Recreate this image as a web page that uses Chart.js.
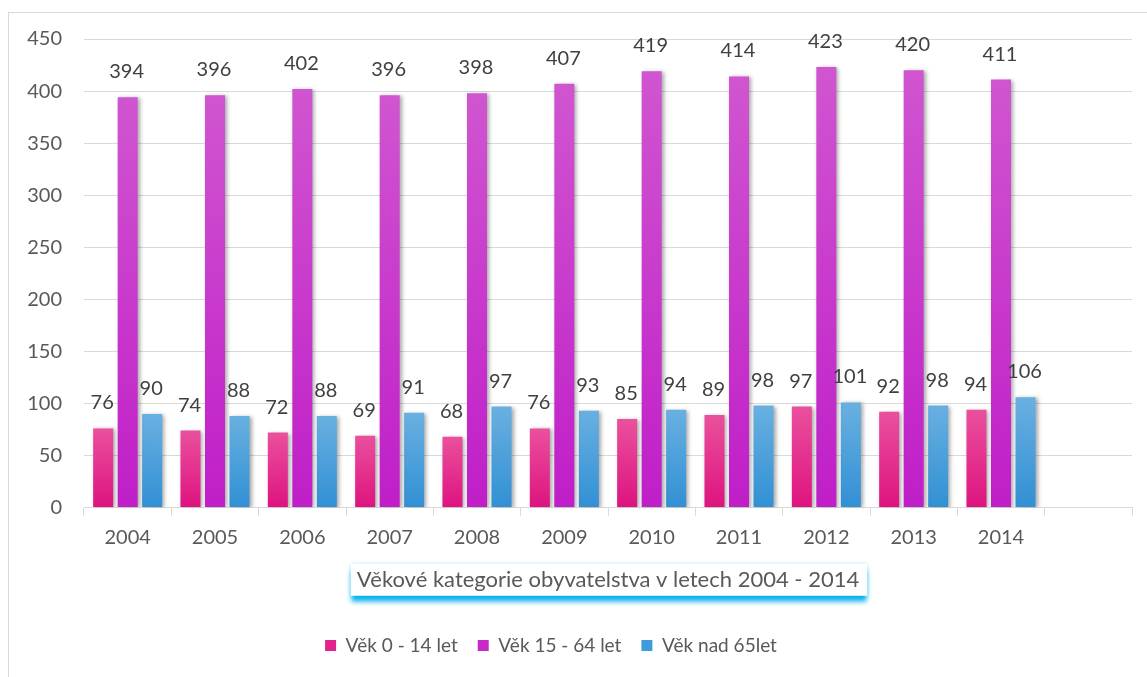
<!DOCTYPE html>
<html>
<head>
<meta charset="utf-8">
<script src="https://cdn.jsdelivr.net/npm/chart.js@4"></script>
<style>
  html, body { margin: 0; padding: 0; background: #ffffff; }
  canvas { display: block; }
</style>
</head>
<body>
<canvas id="c" width="1147" height="677"></canvas>
<script>
const categories = ['2004','2005','2006','2007','2008','2009','2010','2011','2012','2013','2014',''];
const age0to14 = [76, 74, 72, 69, 68, 76, 85, 89, 97, 92, 94];
const age15to64 = [394, 396, 402, 396, 398, 407, 419, 414, 423, 420, 411];
const age65plus = [90, 88, 88, 91, 97, 93, 94, 98, 101, 98, 106];
const seriesNames = ['Věk 0 - 14 let', 'Věk 15 - 64 let', 'Věk nad 65let'];
const titleText = 'Věkové kategorie obyvatelstva v letech 2004 - 2014';
const yTicks = [0, 50, 100, 150, 200, 250, 300, 350, 400, 450];

const FONT = 'Lato, "Open Sans", sans-serif';
const TXT = '#595959';

function grad(top, bottom, solid) {
  return (ctx) => {
    const chart = ctx.chart;
    const area = chart.chartArea;
    const y = chart.scales && chart.scales.y;
    if (!area || !y || ctx.type !== 'data') return solid;
    const yTop = y.getPixelForValue(ctx.raw);
    const yBot = y.getPixelForValue(0);
    if (!isFinite(yTop) || !isFinite(yBot) || yTop === yBot) return solid;
    const g = chart.ctx.createLinearGradient(0, yTop, 0, yBot);
    g.addColorStop(0, top);
    g.addColorStop(1, bottom);
    return g;
  };
}

const solids = ['#e2238a', '#c52ac8', '#3f9bd9'];

const frame = {
  id: 'frame',
  afterLayout(chart) {
    if (chart.legend) chart.legend.right -= 30;
  },
  beforeDraw(chart) {
    const c = chart.ctx;
    c.save();
    c.strokeStyle = '#d9d9d9';
    c.lineWidth = 1;
    c.strokeRect(8.5, 12.5, 1300, 800);
    const tb = chart.titleBlock;
    if (tb) {
      c.font = '22px ' + FONT;
      const w = c.measureText(titleText).width;
      const cx = (tb.left + tb.right) / 2;
      const cy = tb.top + tb.options.padding.top + 13;
      const x0 = cx - w / 2 - 6, x1 = cx + w / 2 + 8;
      c.shadowColor = 'rgba(0,176,240,1)';
      c.shadowBlur = 5;
      c.shadowOffsetY = 6;
      c.fillStyle = '#ffffff';
      c.fillRect(x0, cy - 16, x1 - x0, 32);
      c.shadowColor = 'rgba(0,176,240,0.35)';
      c.shadowBlur = 4;
      c.shadowOffsetY = 0;
      c.fillRect(x0, cy - 16, x1 - x0, 32);
    }
    c.restore();
  },
  beforeDatasetsDraw(chart) {
    const c = chart.ctx;
    c.save();
    c.shadowColor = 'rgba(0,0,0,0.35)';
    c.shadowBlur = 4;
    c.shadowOffsetX = 2;
    c.shadowOffsetY = 1;
  },
  afterDatasetsDraw(chart) {
    const c = chart.ctx;
    c.restore();
    c.save();
    c.font = '20px ' + FONT;
    c.fillStyle = '#404040';
    c.textAlign = 'center';
    c.textBaseline = 'alphabetic';
    chart.data.datasets.forEach((ds, i) => {
      const meta = chart.getDatasetMeta(i);
      meta.data.forEach((bar, j) => {
        const v = ds.data[j];
        if (v == null) return;
        c.fillText(String(v), bar.x - 1, bar.y - 19);
      });
    });
    c.restore();
  }
};

new Chart(document.getElementById('c'), {
  type: 'bar',
  data: {
    labels: categories,
    datasets: [
      { label: seriesNames[0], data: age0to14, backgroundColor: grad('#ea509d', '#de137f', solids[0]) },
      { label: seriesNames[1], data: age15to64, backgroundColor: grad('#d055d0', '#c01ec8', solids[1]) },
      { label: seriesNames[2], data: age65plus, backgroundColor: grad('#69b0e1', '#3190d4', solids[2]) }
    ]
  },
  options: {
    responsive: false,
    devicePixelRatio: 1,
    animation: false,
    datasets: { bar: { barPercentage: 0.816, categoryPercentage: 0.842 } },
    layout: { padding: { top: 39, right: 15, left: 0, bottom: 12 } },
    scales: {
      x: {
        offset: true,
        grid: { display: true, drawOnChartArea: false, drawTicks: true, tickLength: 8, color: '#d9d9d9', offset: true },
        border: { display: true, color: '#d9d9d9' },
        ticks: { color: TXT, font: { family: FONT, size: 20 }, padding: 10, maxRotation: 0, autoSkip: false },
        afterFit(s) { s.height = 45; }
      },
      y: {
        min: 0, max: 450,
        afterBuildTicks(s) { s.ticks = yTicks.map(v => ({ value: v })); },
        grid: { color: '#d9d9d9', drawTicks: false },
        border: { display: false },
        ticks: { color: TXT, font: { family: FONT, size: 20 }, padding: 22 },
        afterFit(s) { s.width = 84; }
      }
    },
    plugins: {
      tooltip: { enabled: false },
      title: {
        display: true, text: titleText, position: 'bottom', fullSize: false, weight: 500,
        color: TXT, font: { family: FONT, size: 22, weight: 'normal' },
        padding: { top: 14, bottom: 23 }
      },
      legend: {
        position: 'bottom', weight: 1000,
        labels: {
          color: TXT, font: { family: FONT, size: 19 }, boxWidth: 11, boxHeight: 11, padding: 20,
          generateLabels(chart) {
            const items = Chart.defaults.plugins.legend.labels.generateLabels(chart);
            items.forEach((it, i) => { it.fillStyle = solids[i]; it.strokeStyle = solids[i]; it.lineWidth = 0; });
            return items;
          }
        }
      }
    }
  },
  plugins: [frame]
});
</script>
</body>
</html>
